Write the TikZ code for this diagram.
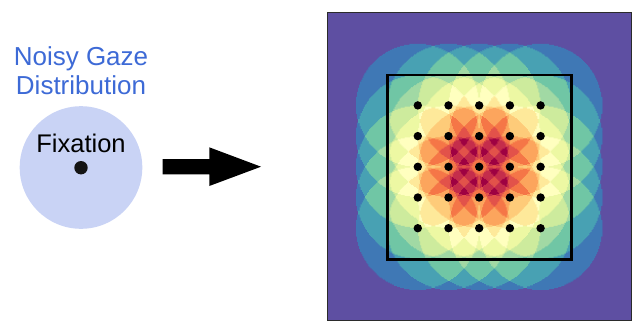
\documentclass[tikz,border=0pt]{standalone}
\usepackage{fontspec}
\setmainfont{Liberation Sans}

% Spectral colour map anchors, from low to high
\definecolor{sp0}{HTML}{5E4FA2}
\definecolor{sp1}{HTML}{3288BD}
\definecolor{sp2}{HTML}{66C2A5}
\definecolor{sp3}{HTML}{ABDDA4}
\definecolor{sp4}{HTML}{E6F598}
\definecolor{sp5}{HTML}{FFFFBF}
\definecolor{sp6}{HTML}{FEE08B}
\definecolor{sp7}{HTML}{FDAE61}
\definecolor{sp8}{HTML}{F46D43}
\definecolor{sp9}{HTML}{D53E4F}
\definecolor{sp10}{HTML}{9E0142}
% one colour per overlap count 0..14
\colorlet{hm0}{sp0}
\colorlet{hm1}{sp1!71.4!sp0}
\colorlet{hm2}{sp2!42.9!sp1}
\colorlet{hm3}{sp3!14.3!sp2}
\colorlet{hm4}{sp3!85.7!sp2}
\colorlet{hm5}{sp4!57.1!sp3}
\colorlet{hm6}{sp5!28.6!sp4}
\colorlet{hm7}{sp5}
\colorlet{hm8}{sp6!71.4!sp5}
\colorlet{hm9}{sp7!42.9!sp6}
\colorlet{hm10}{sp8!14.3!sp7}
\colorlet{hm11}{sp8!85.7!sp7}
\colorlet{hm12}{sp9!57.1!sp8}
\colorlet{hm13}{sp10!28.6!sp9}
\colorlet{hm14}{sp10}
\colorlet{hm15}{sp10}
\colorlet{hm16}{sp10}

\definecolor{gazeblue}{HTML}{3D6AD6}
\definecolor{gazefill}{HTML}{C9D3F5}
\definecolor{framegray}{HTML}{2B2B2B}

% ---- overlap-count raster: integer arithmetic, one quadrant, mirrored ----
\newcount\hmU \newcount\hmV \newcount\hmCnt \newcount\hmK \newcount\hmStart
\newcount\hmT \newcount\hmRR
\newcount\hmdxa \newcount\hmdxb \newcount\hmdxc \newcount\hmdxd \newcount\hmdxe
\newcount\hmdya \newcount\hmdyb \newcount\hmdyc \newcount\hmdyd \newcount\hmdye
\newdimen\hmcs \newdimen\hmcx \newdimen\hmcy
\newdimen\hmXa \newdimen\hmXb \newdimen\hmYa \newdimen\hmYb

\def\hmsq#1#2{#1=\numexpr(#2)*(#2)\relax}
\def\hmadd#1#2{\ifnum\numexpr#1+#2\relax<\hmRR\advance\hmCnt by 1 \fi}
\def\hmline#1{\hmadd#1\hmdya\hmadd#1\hmdyb\hmadd#1\hmdyc\hmadd#1\hmdyd\hmadd#1\hmdye}
\def\hmcell{\hmline\hmdxa\hmline\hmdxb\hmline\hmdxc\hmline\hmdxd\hmline\hmdxe}
\def\hmrect#1#2#3#4{\pgfpathrectanglecorners{\pgfqpoint{#1}{#3}}{\pgfqpoint{#2}{#4}}}

\def\hmflush#1{%
  \ifnum\hmK>0
    \hmXa=\dimexpr\hmcs*\hmStart-0.25pt\relax
    \hmXb=\dimexpr\hmcs*#1+0.25pt\relax
    \begin{pgfscope}%
      \edef\hmcol{hm\the\hmK}%
      \pgfsetfillcolor{\hmcol}%
      \hmrect{\dimexpr\hmcx+\hmXa\relax}{\dimexpr\hmcx+\hmXb\relax}%
             {\dimexpr\hmcy+\hmYa\relax}{\dimexpr\hmcy+\hmYb\relax}%
      \hmrect{\dimexpr\hmcx-\hmXb\relax}{\dimexpr\hmcx-\hmXa\relax}%
             {\dimexpr\hmcy+\hmYa\relax}{\dimexpr\hmcy+\hmYb\relax}%
      \hmrect{\dimexpr\hmcx+\hmXa\relax}{\dimexpr\hmcx+\hmXb\relax}%
             {\dimexpr\hmcy-\hmYb\relax}{\dimexpr\hmcy-\hmYa\relax}%
      \hmrect{\dimexpr\hmcx-\hmXb\relax}{\dimexpr\hmcx-\hmXa\relax}%
             {\dimexpr\hmcy-\hmYb\relax}{\dimexpr\hmcy-\hmYa\relax}%
      \pgfusepath{fill}%
    \end{pgfscope}%
  \fi}

\def\hmcellloop{%
  \ifnum\hmU<120
    \hmT=\numexpr2*\hmU+1\relax
    \hmsq\hmdxa{\hmT+120}\hmsq\hmdxb{\hmT+60}\hmsq\hmdxc{\hmT}%
    \hmsq\hmdxd{\hmT-60}\hmsq\hmdxe{\hmT-120}%
    \hmCnt=0
    \hmcell
    \ifnum\hmCnt=\hmK\else
      \hmflush\hmU
      \hmK=\hmCnt
      \hmStart=\hmU
    \fi
    \advance\hmU by 1
    \expandafter\hmcellloop
  \fi}

\def\hmrowloop{%
  \ifnum\hmV<120
    \hmT=\numexpr2*\hmV+1\relax
    \hmsq\hmdya{\hmT+120}\hmsq\hmdyb{\hmT+60}\hmsq\hmdyc{\hmT}%
    \hmsq\hmdyd{\hmT-60}\hmsq\hmdye{\hmT-120}%
    \hmYa=\dimexpr\hmcs*\hmV-0.25pt\relax
    \hmYb=\dimexpr\hmcs*\hmV+\hmcs+0.25pt\relax
    \hmK=0
    \hmStart=0
    \hmU=0
    \hmcellloop
    \hmflush{120}%
    \advance\hmV by 1
    \expandafter\hmrowloop
  \fi}

\tikzset{
  title/.style={text=gazeblue, font=\fontsize{26}{30}\selectfont, inner sep=0pt, anchor=base},
  label/.style={text=black, font=\fontsize{25.5}{30}\selectfont, inner sep=0pt, anchor=base},
  gaze/.style={circle, fill=gazefill, inner sep=0pt, minimum size=122.6pt},
  fixdot/.style={circle, fill=black!92, inner sep=0pt, minimum size=13.4pt},
  griddot/.style={circle, fill=black, inner sep=0pt, minimum size=8.4pt},
  bigarrow/.style={fill=black},
  frame/.style={draw=framegray, line width=1.1pt},
  window/.style={draw=black, line width=2.8pt},
}

\begin{document}
\begin{tikzpicture}[x=1pt, y=-1pt]
  \useasboundingbox (0,0) rectangle (633,322);

  % left: gaze distribution around one fixation
  \node[gaze] (gaze) at (81,167.5) {};
  \node[fixdot] (fix) at (81,167.7) {};
  \node[label] (fixlabel) at (81,152.7) {Fixation};
  \node[title] (title1) at (81,65.7) {Noisy Gaze};
  \node[title] (title2) at (81,94.3) {Distribution};

  % block arrow
  \coordinate (arA) at (162.7,159.0);
  \coordinate (arB) at (209.3,159.0);
  \coordinate (arC) at (209.3,147.3);
  \coordinate (arTip) at (261.0,166.7);
  \coordinate (arD) at (209.3,186.0);
  \coordinate (arE) at (209.3,174.3);
  \coordinate (arF) at (162.7,174.3);
  \fill[bigarrow] (arA) -- (arB) -- (arC) -- (arTip) -- (arD) -- (arE) -- (arF) -- cycle;

  % right: overlap map of the gaze discs of a 5x5 fixation grid
  \coordinate (mapNW) at (327.5,12.8);
  \coordinate (mapSE) at (631.3,320.3);
  \fill[hm0] (mapNW) rectangle (mapSE);

  \hmcs=1.023333pt
  \hmcx=479.2pt
  \hmcy=-166.8pt
  \hmRR=14400
  \hmV=0
  \hmrowloop

  \coordinate (winNW) at (387.4,74.9);
  \coordinate (winSE) at (571.6,259.1);
  \draw[window] (winNW) rectangle (winSE);

  \foreach \i in {-2,...,2}{
    \foreach \j in {-2,...,2}{
      \node[griddot] (d\i\j) at ({479.2+30.7*\i},{166.8+30.7*\j}) {};
    }
  }

  \draw[frame] (mapNW) rectangle (mapSE);
\end{tikzpicture}
\end{document}
